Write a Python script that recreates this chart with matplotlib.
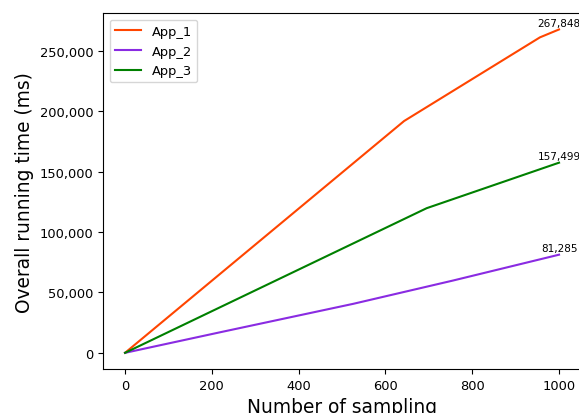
import matplotlib
matplotlib.use("Agg")
import matplotlib.pyplot as plt
from matplotlib.ticker import FuncFormatter

# readings
app1_x = [0, 643, 956, 1000]
app1_y = [0, 192000, 261300, 267848]

app2_x = [0, 220, 526, 756, 1000]
app2_y = [0, 17100, 40600, 59900, 81285]

app3_x = [0, 695, 1000]
app3_y = [0, 119800, 157499]

series = [
    ("App_1", app1_x, app1_y, "orangered"),
    ("App_2", app2_x, app2_y, "blueviolet"),
    ("App_3", app3_x, app3_y, "green"),
]


def main():
    plt.rcParams["xtick.labelsize"] = 9.4
    plt.rcParams["ytick.labelsize"] = 9.4

    fig = plt.figure(figsize=(5.79, 4.14), dpi=100)
    # the original is cropped on the right and at the bottom
    ax = fig.add_axes([0.1785, 0.1063, 0.8245, 0.8592])

    for name, xs, ys, color in series:
        ax.plot(xs, ys, color=color, lw=1.5, label=name)
        ax.annotate(f"{ys[-1]:,}", (xs[-1], ys[-1]), xytext=(0, 1),
                    textcoords="offset points", ha="center", va="bottom",
                    fontsize=7.5)

    ax.yaxis.set_major_formatter(FuncFormatter(lambda v, p: f"{int(v):,}"))
    ax.set_xlabel("Number of sampling", fontsize=13.4)
    ax.set_ylabel("Overall running time (ms)", fontsize=13.4)
    ax.legend(loc="upper left", fontsize=9.4)

    fig.savefig("out.png", dpi=100)


if __name__ == "__main__":
    main()
